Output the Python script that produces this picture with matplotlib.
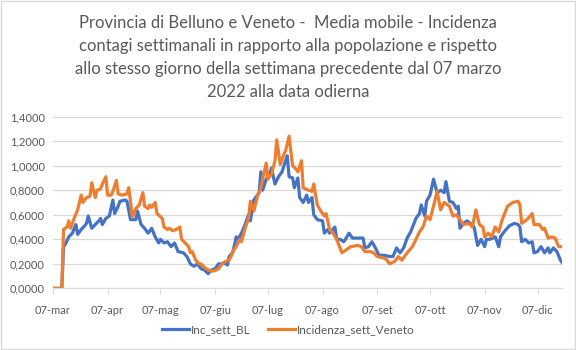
import matplotlib
matplotlib.use("Agg")
import matplotlib.pyplot as plt
import matplotlib.ticker as mticker
import pandas as pd

# giorni dal 07 marzo 2022 e valori
giorni_bl = [0, 5, 6, 7, 9, 11, 13, 14, 16, 18, 19, 20, 22, 24, 26, 27, 28, 30, 32, 34, 35, 37, 38, 41, 42, 44,
             45, 47, 48, 50, 52, 54, 56, 58, 60, 61, 63, 65, 67, 69, 71, 74, 76, 78, 80, 82, 84, 86, 88, 90,
             92, 94, 96, 97, 99, 100, 102, 104, 105, 107, 109, 111, 112, 114, 117, 118, 119, 121, 123, 124,
             126, 128, 130, 132, 133, 134, 136, 137, 139, 140, 142, 144, 145, 147, 148, 150, 153, 154, 156,
             157, 160, 161, 163, 165, 166, 168, 170, 173, 176, 177, 179, 181, 183, 185, 188, 191, 193, 195,
             197, 199, 201, 203, 206, 208, 209, 211, 212, 214, 216, 218, 220, 222, 223, 225, 227, 229, 230,
             231, 233, 235, 237, 239, 241, 243, 245, 246, 248, 251, 253, 254, 256, 259, 262, 264, 265, 266,
             268, 270, 272, 273, 275, 277, 279, 281, 282, 284, 286, 288, 289]
inc_bl = [0, 0, 0.34, 0.36, 0.42, 0.45, 0.52, 0.44, 0.48, 0.51, 0.53, 0.59, 0.49, 0.52, 0.55, 0.57, 0.52, 0.57,
          0.59, 0.72, 0.61, 0.67, 0.71, 0.72, 0.71, 0.56, 0.56, 0.56, 0.63, 0.52, 0.49, 0.45, 0.49, 0.42,
          0.37, 0.40, 0.37, 0.38, 0.34, 0.37, 0.30, 0.29, 0.26, 0.20, 0.18, 0.20, 0.16, 0.15, 0.12, 0.15,
          0.16, 0.20, 0.20, 0.21, 0.19, 0.26, 0.29, 0.42, 0.40, 0.45, 0.52, 0.60, 0.55, 0.72, 0.78, 0.95,
          0.80, 0.89, 0.93, 0.98, 0.85, 0.91, 0.95, 1.04, 1.08, 0.91, 0.90, 0.82, 0.90, 0.74, 0.70, 0.76,
          0.70, 0.74, 0.60, 0.56, 0.55, 0.45, 0.48, 0.45, 0.50, 0.40, 0.40, 0.38, 0.40, 0.45, 0.41, 0.41,
          0.41, 0.33, 0.34, 0.38, 0.33, 0.27, 0.27, 0.26, 0.26, 0.33, 0.29, 0.33, 0.41, 0.46, 0.57, 0.61,
          0.68, 0.59, 0.71, 0.76, 0.89, 0.78, 0.80, 0.78, 0.87, 0.71, 0.70, 0.65, 0.67, 0.49, 0.53, 0.55,
          0.53, 0.50, 0.35, 0.40, 0.34, 0.40, 0.40, 0.42, 0.34, 0.42, 0.46, 0.51, 0.53, 0.52, 0.50, 0.38,
          0.40, 0.37, 0.38, 0.29, 0.30, 0.34, 0.29, 0.33, 0.29, 0.33, 0.30, 0.23, 0.21]

giorni_ve = [0, 5, 6, 8, 9, 10, 12, 14, 16, 17, 19, 21, 22, 24, 25, 27, 28, 30, 31, 33, 34, 36, 37, 39, 42, 43,
             44, 45, 47, 49, 51, 52, 54, 55, 56, 58, 59, 62, 63, 65, 66, 68, 70, 72, 73, 75, 77, 78, 79, 81,
             83, 84, 86, 88, 90, 92, 94, 96, 98, 100, 101, 102, 104, 106, 107, 109, 111, 112, 114, 116, 118,
             119, 121, 122, 124, 126, 127, 129, 131, 132, 134, 136, 138, 139, 141, 142, 145, 147, 148, 150,
             152, 154, 155, 157, 159, 161, 164, 166, 169, 173, 175, 177, 180, 182, 184, 187, 189, 191, 194,
             196, 198, 201, 204, 206, 208, 210, 212, 214, 216, 218, 220, 222, 225, 227, 229, 231, 233, 236,
             238, 240, 242, 244, 245, 247, 249, 251, 253, 255, 258, 261, 264, 265, 266, 269, 272, 273, 276,
             278, 279, 281, 283, 285, 287, 289]
inc_veneto = [0, 0, 0.48, 0.50, 0.55, 0.49, 0.57, 0.64, 0.76, 0.70, 0.74, 0.75, 0.86, 0.74, 0.80, 0.81, 0.85,
              0.91, 0.76, 0.76, 0.79, 0.88, 0.77, 0.76, 0.77, 0.82, 0.71, 0.58, 0.65, 0.68, 0.78, 0.67, 0.65,
              0.68, 0.66, 0.70, 0.61, 0.57, 0.50, 0.48, 0.49, 0.47, 0.48, 0.50, 0.40, 0.37, 0.34, 0.29, 0.30,
              0.23, 0.20, 0.20, 0.17, 0.15, 0.14, 0.145, 0.16, 0.20, 0.22, 0.23, 0.26, 0.30, 0.34, 0.40, 0.38,
              0.49, 0.57, 0.71, 0.63, 0.75, 0.82, 0.89, 1.02, 0.89, 0.93, 1.04, 1.21, 1.01, 1.09, 1.12, 1.24,
              1.00, 0.97, 0.95, 1.04, 0.82, 0.80, 0.79, 0.85, 0.68, 0.63, 0.59, 0.61, 0.48, 0.45, 0.40, 0.29,
              0.31, 0.34, 0.35, 0.34, 0.30, 0.30, 0.29, 0.26, 0.25, 0.24, 0.20, 0.22, 0.26, 0.23, 0.29, 0.34,
              0.40, 0.46, 0.50, 0.59, 0.56, 0.67, 0.79, 0.64, 0.70, 0.67, 0.59, 0.60, 0.56, 0.52, 0.53, 0.50,
              0.64, 0.52, 0.50, 0.42, 0.45, 0.42, 0.50, 0.46, 0.56, 0.67, 0.70, 0.71, 0.68, 0.53, 0.56, 0.61,
              0.52, 0.52, 0.48, 0.49, 0.41, 0.42, 0.41, 0.34, 0.34]

mesi = ["07-mar", "07-apr", "07-mag", "07-giu", "07-lug", "07-ago", "07-set", "07-ott", "07-nov", "07-dic"]

inizio = pd.Timestamp("2022-03-07")
date_bl = inizio + pd.to_timedelta(giorni_bl, unit="D")
date_ve = inizio + pd.to_timedelta(giorni_ve, unit="D")
tick_date = pd.date_range("2022-03-01", periods=len(mesi), freq="MS") + pd.Timedelta(days=6)

grigio = "#595959"
plt.rcParams['font.family'] = ['Lato', 'DejaVu Sans']

fig = plt.figure(figsize=(5.76, 3.5), dpi=100)
ax = fig.add_axes([0.092, 0.176, 0.884, 0.491])

ax.plot(date_bl, inc_bl, color="#4472C4", lw=2.3, label="Inc_sett_BL", solid_joinstyle="round")
ax.plot(date_ve, inc_veneto, color="#ED7D31", lw=2.3, label="Incidenza_sett_Veneto", solid_joinstyle="round")

ax.set_xlim(inizio, inizio + pd.Timedelta(days=289))
ax.set_ylim(0, 1.4)
ax.yaxis.set_major_locator(mticker.MultipleLocator(0.2))
ax.yaxis.set_major_formatter(mticker.FuncFormatter(lambda v, p: f"{v:.4f}".replace(".", ",")))
ax.set_xticks(tick_date)
ax.set_xticklabels(mesi)

ax.grid(axis="y", color="#D9D9D9", lw=0.9)
ax.set_axisbelow(True)
for s in ["top", "right", "left"]:
    ax.spines[s].set_visible(False)
ax.spines["bottom"].set_color("#D9D9D9")
ax.tick_params(axis="y", length=0, labelsize=8, labelcolor=grigio, pad=6)
ax.tick_params(axis="x", length=4, color="#D9D9D9", labelsize=8, labelcolor=grigio, pad=8)

fig.text(0.5, 0.958, "Provincia di Belluno e Veneto -  Media mobile - Incidenza\n"
         "contagi settimanali in rapporto alla popolazione e rispetto\n"
         "allo stesso giorno della settimana precedente dal 07 marzo\n"
         "2022 alla data odierna",
         ha="center", va="top", fontsize=12, color=grigio, linespacing=1.55)

fig.legend(loc="lower center", bbox_to_anchor=(0.5, 0.012), ncol=2, frameon=False, fontsize=8.5,
           labelcolor=grigio, handlelength=2.3, columnspacing=1.5, handletextpad=0.15)

fig.patches.append(plt.Rectangle((0.001, 0.002), 0.997, 0.995, transform=fig.transFigure,
                                 fill=False, edgecolor="#D9D9D9", lw=1))

fig.savefig("out.png", dpi=100)
